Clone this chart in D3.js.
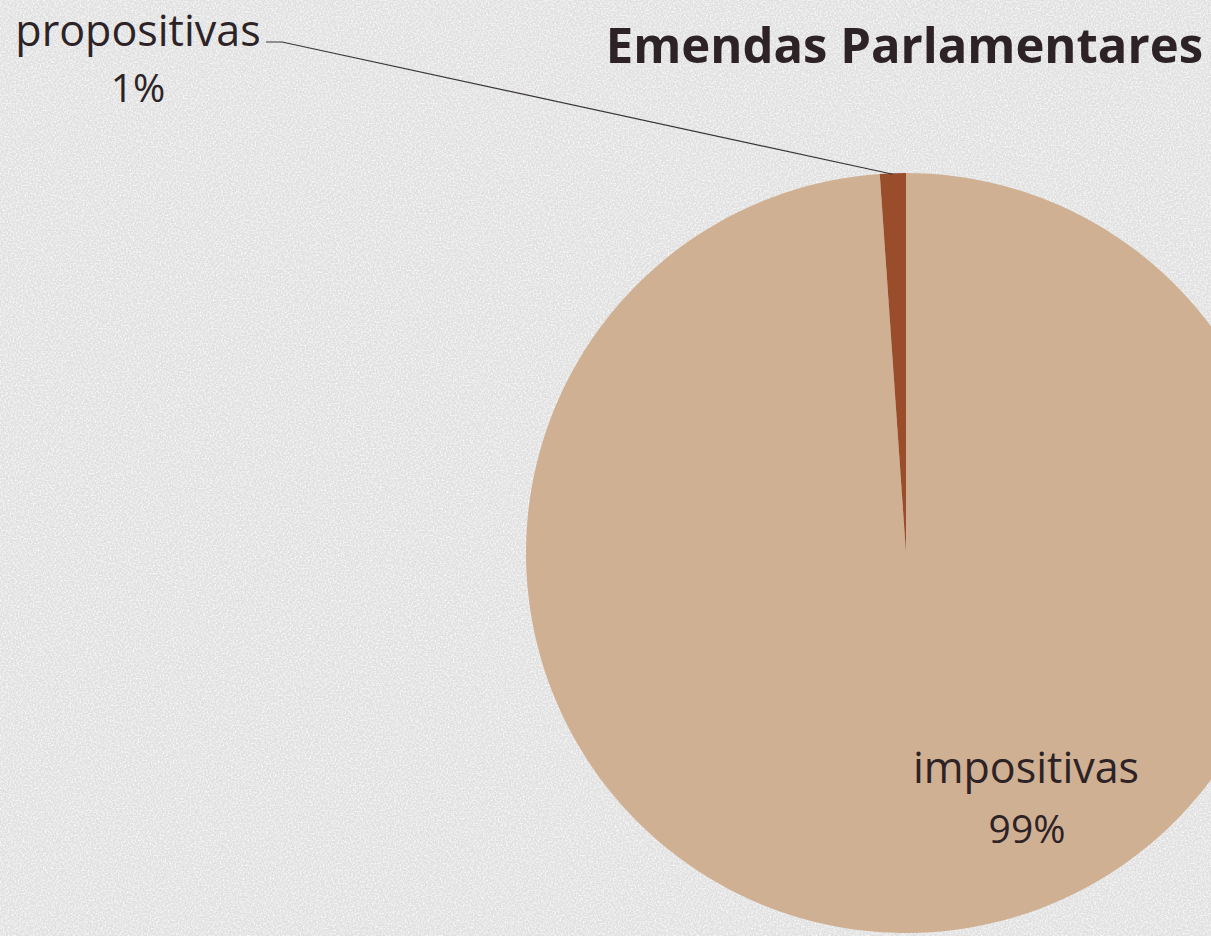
<!DOCTYPE html>
<html>
<head>
<meta charset="utf-8">
<script src="https://cdn.jsdelivr.net/npm/d3@7"></script>
<style>
  body { margin: 0; background: #e5e5e5; }
  svg { display: block; }
</style>
</head>
<body>
<svg width="1211" height="936"></svg>
<script>
const categories = ['impositivas', 'propositivas'];
const shares = [98.9, 1.1];
const title = 'Emendas Parlamentares';

const svg = d3.select('svg');
const width = +svg.attr('width');
const height = +svg.attr('height');

// canvas-like texture
const defs = svg.append('defs');
const filt = defs.append('filter').attr('id', 'canvas')
    .attr('x', 0).attr('y', 0).attr('width', '100%').attr('height', '100%');
filt.append('feTurbulence')
    .attr('type', 'fractalNoise').attr('baseFrequency', 0.6)
    .attr('numOctaves', 2).attr('seed', 3).attr('result', 'noise');
filt.append('feColorMatrix')
    .attr('type', 'matrix')
    .attr('values', '0 0 0 0 1  0 0 0 0 1  0 0 0 0 1  0 0 0 1.8 -0.7');

svg.append('rect')
    .attr('width', width).attr('height', height)
    .attr('fill', '#e0e0e0');
svg.append('rect')
    .attr('width', width).attr('height', height)
    .attr('filter', 'url(#canvas)');

const color = d3.scaleOrdinal()
    .domain(categories)
    .range(['#d0b092', '#9a4d2b']);

const data = categories.map((c, i) => ({ name: c, value: shares[i] }));

const cx = 906;
const cy = 553;
const r = 380;

const pie = d3.pie().sort(null).value(d => d.value);
const arc = d3.arc().innerRadius(0).outerRadius(r);
const arcs = pie(data);

const g = svg.append('g').attr('transform', `translate(${cx},${cy})`);
g.selectAll('path')
  .data(arcs)
  .enter().append('path')
    .attr('d', arc)
    .attr('fill', d => color(d.data.name));

const textColor = '#2d2326';
const font = '"Open Sans", sans-serif';
const pct = d => `${Math.round(d.data.value)}%`;

// inside label for the big slice
const big = arcs[0];
const bigLabel = svg.append('text')
    .attr('font-family', font)
    .attr('fill', textColor)
    .attr('text-anchor', 'middle');
bigLabel.append('tspan').attr('x', 1026).attr('y', 783)
    .attr('font-size', 43).text(big.data.name);
bigLabel.append('tspan').attr('x', 1027).attr('y', 843)
    .attr('font-size', 39).text(pct(big));

// outside label with leader line for the small slice
const small = arcs[1];
const smallLabel = svg.append('text')
    .attr('font-family', font)
    .attr('fill', textColor)
    .attr('text-anchor', 'middle');
smallLabel.append('tspan').attr('x', 138).attr('y', 46)
    .attr('font-size', 43).text(small.data.name);
smallLabel.append('tspan').attr('x', 138).attr('y', 102)
    .attr('font-size', 39).text(pct(small));

const mid = (small.startAngle + small.endAngle) / 2;
const tip = [cx + Math.sin(mid) * (r - 1), cy - Math.cos(mid) * (r - 1)];
svg.append('path')
    .attr('d', d3.line()([[266, 42], [282, 42], tip]))
    .attr('fill', 'none')
    .attr('stroke', '#3a3436')
    .attr('stroke-width', 1.2);

svg.append('text')
    .attr('x', 1203)
    .attr('y', 63)
    .attr('text-anchor', 'end')
    .attr('font-family', font)
    .attr('font-weight', 700)
    .attr('font-size', 49)
    .attr('fill', textColor)
    .text(title);
</script>
</body>
</html>
